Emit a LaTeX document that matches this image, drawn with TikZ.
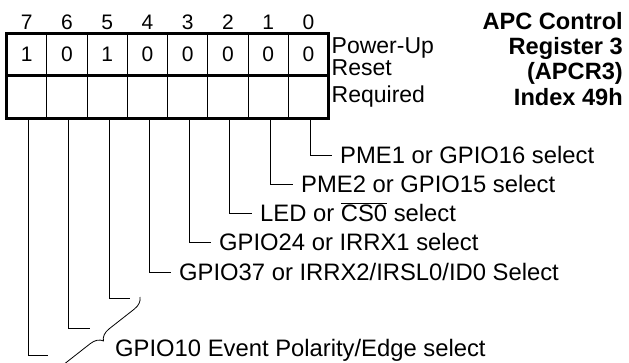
\documentclass[tikz,border=0pt]{standalone}
\usepackage{fontspec}
\setmainfont{Liberation Sans}
\usepackage{tikz}
\usetikzlibrary{positioning, decorations.pathreplacing}
\tikzstyle{cell} = [rectangle, draw, line width=0.8pt, minimum width=40.25pt,
  minimum height=42.25pt, inner sep=0pt, outer sep=0pt, font=\fontsize{21}{21}\selectfont]
\tikzstyle{bitno} = [inner sep=0pt, font=\fontsize{21}{21}\selectfont]
\tikzstyle{field} = [anchor=west, inner xsep=8pt, inner ysep=0pt, text height=17pt,
  text depth=0pt, font=\fontsize{23.8}{24}\selectfont]
\tikzstyle{side} = [anchor=west, inner sep=3pt, align=left, font=\fontsize{23}{22}\selectfont]
\tikzstyle{title} = [anchor=north east, inner sep=0pt, align=right,
  font=\fontsize{23.6}{25.3}\selectfont\bfseries]
\tikzstyle{lead} = [line width=0.8pt]
\tikzstyle{frame} = [line width=3pt]

\begin{document}
\begin{tikzpicture}[x=1pt, y=1pt]
    \useasboundingbox (0,0) rectangle (629,-362);
    % power-up reset row
    \node[cell, anchor=north west] (r7) at (6.5,-33.5) {1};
    \node[cell, right=0pt of r7] (r6) {0};
    \node[cell, right=0pt of r6] (r5) {1};
    \node[cell, right=0pt of r5] (r4) {0};
    \node[cell, right=0pt of r4] (r3) {0};
    \node[cell, right=0pt of r3] (r2) {0};
    \node[cell, right=0pt of r2] (r1) {0};
    \node[cell, right=0pt of r1] (r0) {0};
    % required row
    \node[cell, below=0pt of r7] (q7) {};
    \node[cell, right=0pt of q7] (q6) {};
    \node[cell, right=0pt of q6] (q5) {};
    \node[cell, right=0pt of q5] (q4) {};
    \node[cell, right=0pt of q4] (q3) {};
    \node[cell, right=0pt of q3] (q2) {};
    \node[cell, right=0pt of q2] (q1) {};
    \node[cell, right=0pt of q1] (q0) {};
    % bit numbers
    \node[bitno, above=4pt of r7] (b7) {7};
    \node[bitno, above=4pt of r6] (b6) {6};
    \node[bitno, above=4pt of r5] (b5) {5};
    \node[bitno, above=4pt of r4] (b4) {4};
    \node[bitno, above=4pt of r3] (b3) {3};
    \node[bitno, above=4pt of r2] (b2) {2};
    \node[bitno, above=4pt of r1] (b1) {1};
    \node[bitno, above=4pt of r0] (b0) {0};
    \draw[frame] (r7.north west) rectangle (q0.south east);
    \draw[frame] (r7.south west) -- (r0.south east);
    \node[side] (pwr) at ([yshift=-2pt]r0.east) {Power-Up\\Reset};
    \node[side] (req) at (q0.east) {Required};
    \node[title] (ttl) at (623,-12) {APC Control\\Register 3\\(APCR3)\\Index 49h};
    % field names
    \node[field] (t0) at (332,-155) {PME1 or GPIO16 select};
    \node[field] (t1) at (293,-184) {PME2 or GPIO15 select};
    \node[field] (t2) at (252,-213) {LED or $\overline{\mbox{CS0}}$ select};
    \node[field] (t3) at (211,-242) {GPIO24 or IRRX1 select};
    \node[field] (t4) at (171,-272) {GPIO37 or IRRX2/IRSL0/ID0 Select};
    \node[field] (t5) at (107,-348) {GPIO10 Event Polarity/Edge select};
    \coordinate (c5) at (130,-298);
    \coordinate (c6) at (90,-328);
    \coordinate (c7) at (48,-355);
    \coordinate (bt) at (140,-297);
    \coordinate (bb) at (52,-366);
    \draw[lead] ([xshift=2pt]q0.south) |- (t0.west);
    \draw[lead] ([xshift=2pt]q1.south) |- (t1.west);
    \draw[lead] ([xshift=2pt]q2.south) |- (t2.west);
    \draw[lead] ([xshift=2pt]q3.south) |- (t3.west);
    \draw[lead] ([xshift=2pt]q4.south) |- (t4.west);
    \draw[lead] ([xshift=2pt]q5.south) |- (c5);
    \draw[lead] ([xshift=2pt]q6.south) |- (c6);
    \draw[lead] ([xshift=2pt]q7.south) |- (c7);
    \draw[lead, decorate, decoration={brace, amplitude=12pt}] (bt) -- (bb);
  \end{tikzpicture}
\end{document}
